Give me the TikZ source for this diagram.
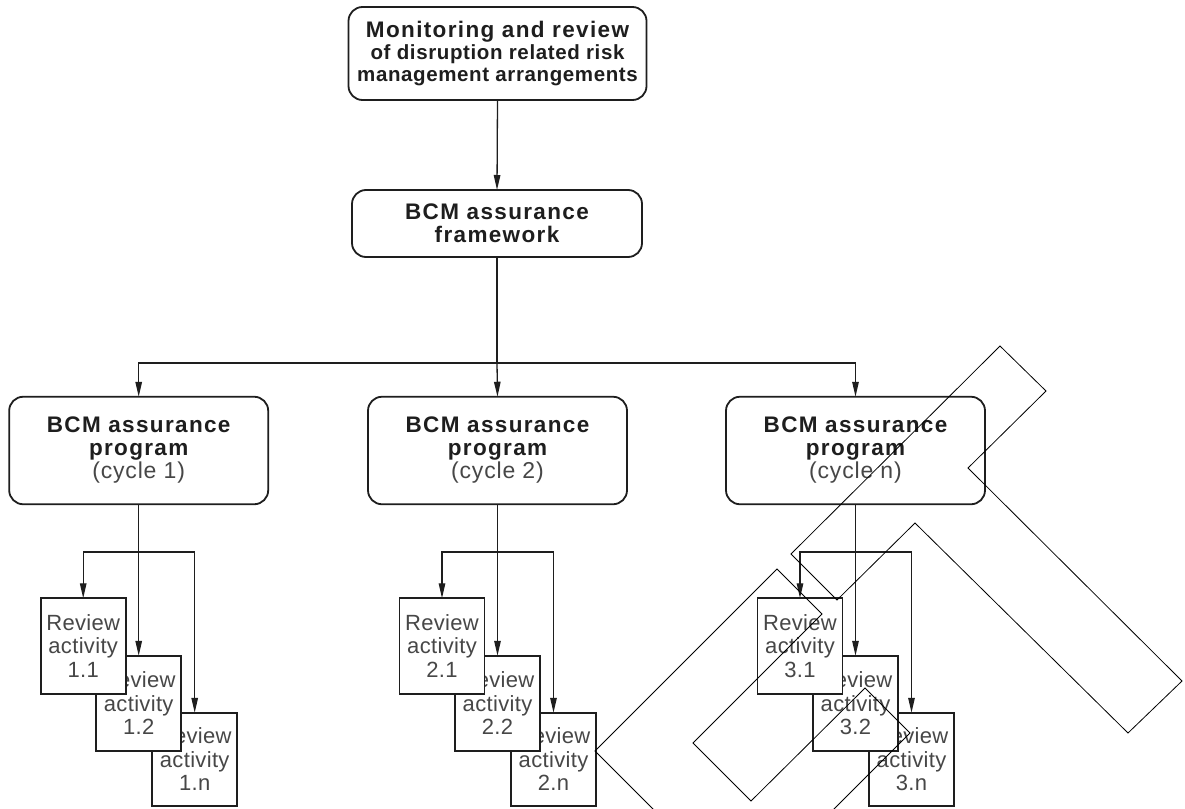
\documentclass[tikz,border=0pt]{standalone}
\usepackage{fontspec}
\setmainfont{Liberation Sans}
\usetikzlibrary{arrows.meta}
\newfontfamily\headfam[LetterSpace=6]{Liberation Sans}
\newfontfamily\subfam[LetterSpace=3]{Liberation Sans}
\newfontfamily\lightfam[LetterSpace=1.5]{Liberation Sans}
\newfontfamily\cyclefam[LetterSpace=3.5]{Liberation Sans}
\definecolor{ink}{HTML}{1E1E1E}
\definecolor{softink}{HTML}{474747}

\begin{document}
\begin{tikzpicture}[x=1pt,y=-1pt,
  every node/.style={inner sep=0pt,outer sep=0pt},
  roundbox/.style={draw=ink,line width=1.8pt,rounded corners=14pt,fill=white,
    align=center,text=ink,font=\headfam\bfseries\fontsize{22.5}{23}\selectfont},
  progbox/.style={roundbox,minimum width=259pt,minimum height=107.5pt},
  reviewbox/.style={draw=ink,line width=1.8pt,fill=white,minimum width=85pt,
    minimum height=95.5pt,align=center,text=softink,
    font=\lightfam\fontsize{22}{23.5}\selectfont},
  lastbox/.style={reviewbox,minimum height=93.5pt},
  link/.style={draw=ink,line width=1.3pt},
  arr/.style={link,-{Triangle[length=15pt,width=6.5pt]}},
  ghost/.style={draw=black,line width=0.8pt}
]
\useasboundingbox (0,0) rectangle (1185,808);
\fill[white] (0,0) rectangle (1185,808);

% top of the hierarchy
\node[roundbox,minimum width=298pt,minimum height=93pt,
      font=\headfam\bfseries\fontsize{22.5}{22}\selectfont] (top) at (497.5,53.5)
  {Monitoring and review\\
   {\subfam\bfseries\fontsize{20.5}{22}\selectfont of disruption related risk}\\
   {\subfam\bfseries\fontsize{20.5}{22}\selectfont management arrangements}};
\node[roundbox,minimum width=290pt,minimum height=67pt] (fw) at (497,223.5)
  {BCM assurance\\framework};

% assurance programs, one per cycle
\node[progbox] (p1) at (138.7,450.5)
  {BCM assurance\\program\\{\cyclefam\mdseries\fontsize{23}{23}\selectfont\color{softink}(cycle 1)}};
\node[progbox] (p2) at (497.5,450.5)
  {BCM assurance\\program\\{\cyclefam\mdseries\fontsize{23}{23}\selectfont\color{softink}(cycle 2)}};
\node[progbox] (p3) at (855.5,450.5)
  {BCM assurance\\program\\{\cyclefam\mdseries\fontsize{23}{23}\selectfont\color{softink}(cycle n)}};

\draw[arr] (top.south) -- (fw.north);
\coordinate (split) at (497,363);
\draw[link] (fw.south) -- (split);
\draw[arr] (split) -| (p1.north);
\draw[arr] (split) -- (p2.north);
\draw[arr] (split) -| (p3.north);

% review activities: drawn back to front so each sheet overlaps the next
\foreach \c/\k in {138.7/1,497.5/2,855.5/3}{
  \node[lastbox]   (r\k n) at (\c+56,759.5) {Review\\activity\\\k.n};
  \node[reviewbox] (r\k 2) at (\c,703.5)     {Review\\activity\\\k.2};
  \node[reviewbox] (r\k 1) at (\c-55.5,646)  {Review\\activity\\\k.1};
  \coordinate (b\k) at (\c,552);
  \draw[arr] (p\k.south) -- (r\k 2.north);
  \draw[arr] (b\k) -| (r\k 1.north);
  \draw[arr] (b\k) -| (r\k n.north);
}

% stray outline strokes over the lower right
\begin{scope}
  \clip (0,0) rectangle (1185,808);
  \draw[ghost] (791,554) -- (1000,346) -- (1046,391) -- (968,468) -- (1182,681)
    -- (1128,733) -- (915,523) -- (837,600) -- cycle;
  \draw[ghost] (595,751) -- (777,569) -- (822,614) -- (693,743) -- (751,801)
    -- (865,688) -- (910,733) -- (743.5,899.5) -- cycle;
\end{scope}
\end{tikzpicture}
\end{document}
